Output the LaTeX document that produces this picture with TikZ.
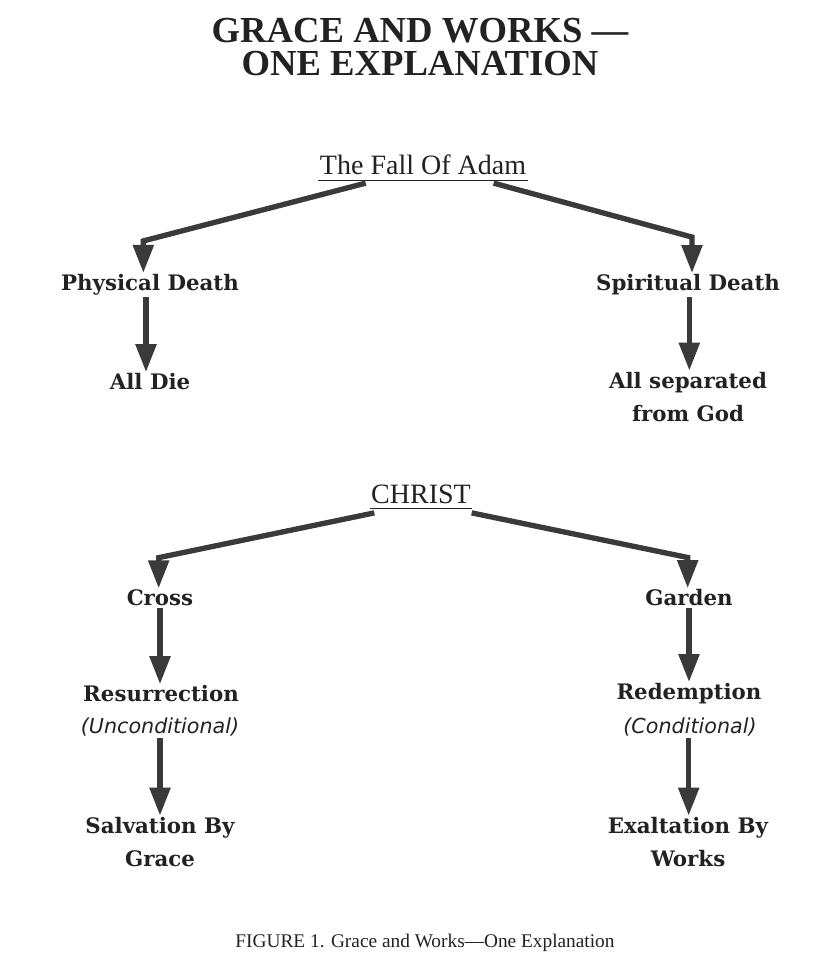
\documentclass[tikz,border=0pt]{standalone}
\usepackage{fontspec}
\setmainfont{Liberation Serif}
\newfontfamily\boxfont{DejaVu Serif}
\newfontfamily\notefont{DejaVu Sans}
\usepackage{tikz}
\usetikzlibrary{arrows.meta}
\definecolor{ink}{HTML}{222222}
\definecolor{shaft}{HTML}{3A3A3A}

\begin{document}
\begin{tikzpicture}[
    x=0.75pt, y=-0.75pt, >={Triangle[length=21pt,width=15pt]},
    every node/.style={text=ink, inner sep=1pt},
    title/.style={font=\bfseries\fontsize{27.5}{25}\selectfont, align=center},
    head/.style={font=\fontsize{21}{22}\selectfont, text depth=0pt, inner ysep=4pt},
    lbl/.style={font=\boxfont\bfseries\fontsize{16}{24.75}\selectfont, align=center},
    cond/.style={font=\notefont\itshape\fontsize{15.5}{18}\selectfont},
    flow/.style={->, draw=shaft, line width=4pt},
    uline/.style={draw=ink, line width=0.9pt}
]
\useasboundingbox[fill=white] (0,0) rectangle (832,968);

\node[title] (ttl) at (420,47) {GRACE AND WORKS —\\ONE EXPLANATION};

\node[head] (fall) at (423,165) {The Fall Of Adam};
\node[lbl] (phys) at (150,285) {Physical Death};
\node[lbl] (spir) at (688,285) {Spiritual Death};
\node[lbl] (alldie) at (150,382) {All Die};
\node[lbl] (allsep) at (688,397) {All separated\\from God};

\node[head] (christ) at (421,494) {CHRIST};
\node[lbl] (cross) at (160,598) {Cross};
\node[lbl] (garden) at (689,598) {Garden};
\node[lbl] (res) at (161,694) {Resurrection};
\node[cond] (rescond) at (160,727) {(Unconditional)};
\node[lbl] (red) at (689,694) {Redemption};
\node[cond] (redcond) at (690,727) {(Conditional)};
\node[lbl] (salv) at (160,842) {Salvation By\\Grace};
\node[lbl] (exalt) at (688,842) {Exaltation By\\Works};

\node[font=\fontsize{14.5}{16}\selectfont] (capt) at (425,943)
  {FIGURE 1. Grace and Works—One Explanation};

\draw[uline] (fall.south west) -- (fall.south east);
\draw[uline] (christ.south west) -- (christ.south east);

\draw[flow] ([xshift=-43pt,yshift=-2pt]fall.south) -- ([xshift=-5pt,yshift=24pt]phys.north) -- ([xshift=-5pt]phys.north);
\draw[flow] ([xshift=53pt,yshift=-2pt]fall.south) -- ([xshift=3pt,yshift=27pt]spir.north) -- ([xshift=3pt]spir.north);
\draw[flow] ([xshift=-3pt]phys.south) -- ([xshift=-3pt]phys.south |- alldie.north);
\draw[flow] ([xshift=1pt]spir.south) -- ([xshift=1pt]spir.south |- allsep.north);

\draw[flow] ([xshift=-35pt,yshift=-3pt]christ.south) -- ([xshift=-1pt,yshift=23pt]cross.north) -- ([xshift=-1pt]cross.north);
\draw[flow] ([xshift=38pt,yshift=-3pt]christ.south) -- ([xshift=-1pt,yshift=23pt]garden.north) -- ([xshift=-1pt]garden.north);
\draw[flow] (cross.south) -- (cross.south |- res.north);
\draw[flow] (garden.south) -- (garden.south |- red.north);
\draw[flow] (rescond.south) -- (rescond.south |- salv.north);
\draw[flow] ([xshift=-1pt]redcond.south) -- ([xshift=-1pt]redcond.south |- exalt.north);
\end{tikzpicture}
\end{document}
